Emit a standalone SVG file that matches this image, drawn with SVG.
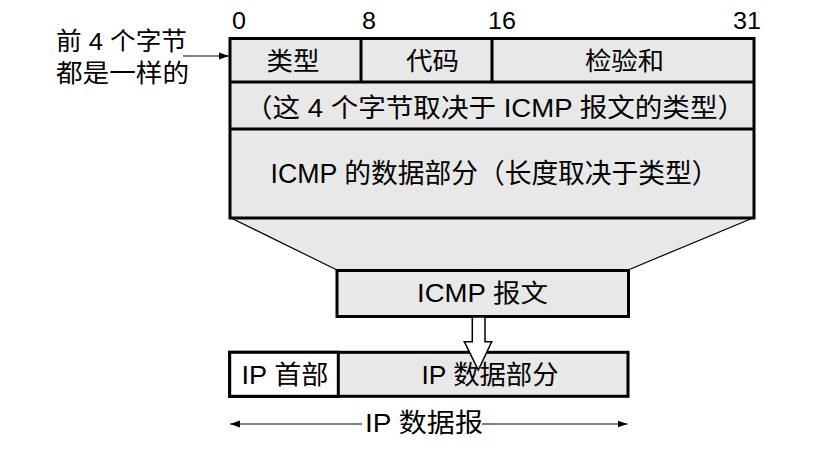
<svg xmlns="http://www.w3.org/2000/svg" width="826" height="452" viewBox="0 0 826 452">
<defs>
<style>
text{font-family:"Liberation Sans","Noto Sans CJK SC",sans-serif;font-size:25px;fill:#000}
.c{text-anchor:middle}
.num{font-size:24px}
.box{fill:#e8e8e8;stroke:#000;stroke-width:3}
.thin{stroke:#000;stroke-width:1.2;fill:none}
</style>
<marker id="ah" viewBox="0 0 10 10" refX="10" refY="5" markerWidth="10" markerHeight="10" markerUnits="userSpaceOnUse" orient="auto-start-reverse">
<path d="M0,1.5 L10,5 L0,8.5 Z" fill="#000"/>
</marker>
</defs>
<g id="bitlabels">
<text x="239" y="29" class="c num" textLength="14" lengthAdjust="spacingAndGlyphs">0</text>
<text x="369" y="29" class="c num" textLength="14" lengthAdjust="spacingAndGlyphs">8</text>
<text x="502" y="29" class="c num" textLength="28" lengthAdjust="spacingAndGlyphs">16</text>
<text x="747" y="29" class="c num" textLength="28" lengthAdjust="spacingAndGlyphs">31</text>
</g>
<g id="trapezoid">
<polygon points="231,218 753,218 628,270 337,270" fill="#e8e8e8" stroke="none"/>
<line x1="231" y1="218" x2="337" y2="270" class="thin"/>
<line x1="753" y1="218" x2="628" y2="270" class="thin"/>
</g>
<g id="icmp-format">
<rect x="230" y="38.5" width="524" height="179.5" class="box"/>
<line x1="230" y1="82" x2="754" y2="82" stroke="#000" stroke-width="3"/>
<line x1="230" y1="129" x2="754" y2="129" stroke="#000" stroke-width="3"/>
<line x1="361" y1="38.5" x2="361" y2="82" stroke="#000" stroke-width="3"/>
<line x1="492" y1="38.5" x2="492" y2="82" stroke="#000" stroke-width="3"/>
<text x="293" y="70" class="c" textLength="53" lengthAdjust="spacingAndGlyphs">类型</text>
<text x="432.5" y="70" class="c" textLength="53" lengthAdjust="spacingAndGlyphs">代码</text>
<text x="624.5" y="70" class="c" textLength="79" lengthAdjust="spacingAndGlyphs">检验和</text>
<text x="495" y="117" class="c" style="font-size:26px" textLength="500" lengthAdjust="spacingAndGlyphs">（这 4 个字节取决于 ICMP 报文的类型）</text>
<text x="494.5" y="183" class="c" style="font-size:27px" textLength="448" lengthAdjust="spacingAndGlyphs">ICMP 的数据部分（长度取决于类型）</text>
</g>
<g id="side-note">
<text x="56" y="50" style="font-size:24.5px" textLength="131" lengthAdjust="spacingAndGlyphs">前 4 个字节</text>
<text x="56" y="82" style="font-size:24.5px" textLength="133" lengthAdjust="spacingAndGlyphs">都是一样的</text>
</g>
<g id="icmp-message">
<rect x="337" y="270.5" width="291.5" height="46" class="box"/>
<text x="482.5" y="302" class="c" textLength="131" lengthAdjust="spacingAndGlyphs">ICMP 报文</text>
</g>
<g id="ip-datagram">
<rect x="229.7" y="352.3" width="398.3" height="44" class="box"/>
<rect x="229.7" y="352.3" width="108.6" height="44" fill="#fff" stroke="#000" stroke-width="3"/>
<text x="285" y="384" class="c" style="font-size:26px" textLength="87" lengthAdjust="spacingAndGlyphs">IP 首部</text>
<text x="490" y="384" class="c" style="font-size:26px" textLength="137" lengthAdjust="spacingAndGlyphs">IP 数据部分</text>
</g>
<g id="connectors">
<line x1="183" y1="56" x2="229" y2="56" class="thin" marker-end="url(#ah)"/>
<polygon points="472.3,317 485,317 485,341.7 491.7,341.7 478.3,370 464.3,341.7 472.3,341.7" fill="#fff" stroke="#000" stroke-width="1.5"/>
<line x1="230" y1="424" x2="362" y2="424" class="thin" marker-start="url(#ah)"/>
<line x1="482" y1="424" x2="627.5" y2="424" class="thin" marker-end="url(#ah)"/>
<text x="424" y="432" class="c" style="font-size:26px" textLength="118" lengthAdjust="spacingAndGlyphs">IP 数据报</text>
</g>
</svg>
